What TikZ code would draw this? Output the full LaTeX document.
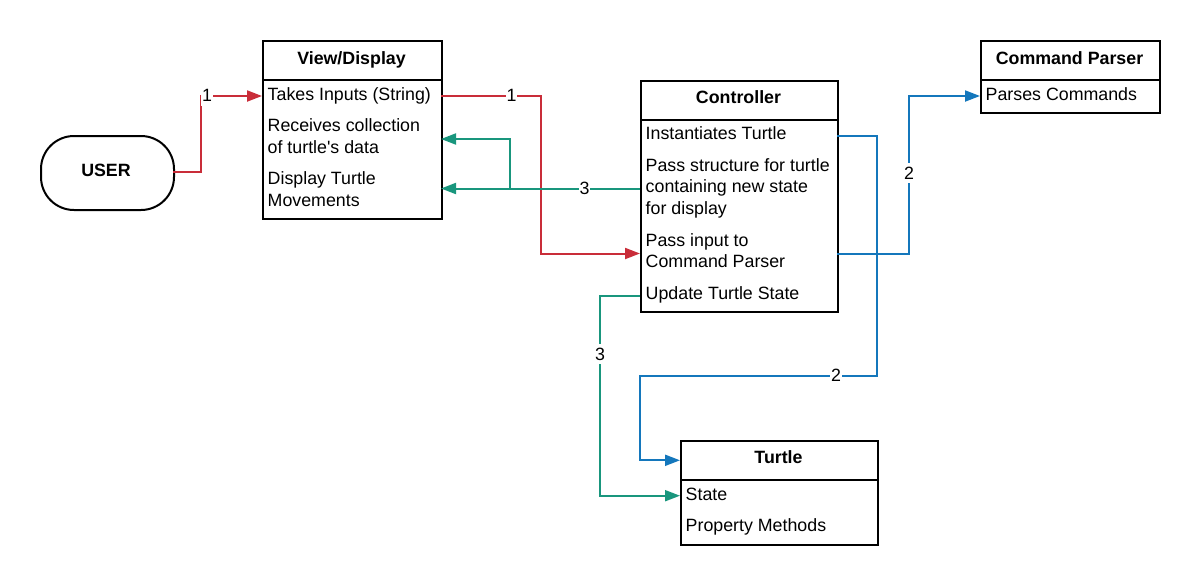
\documentclass[tikz,border=0pt]{standalone}
\usepackage{fontspec}
\setmainfont{Liberation Sans}
\usetikzlibrary{arrows.meta}
\definecolor{cred}{HTML}{C92D39}
\definecolor{cteal}{HTML}{19967D}
\definecolor{cblue}{HTML}{1477BC}
\begin{document}
\begin{tikzpicture}[x=1pt,y=-1pt,
  box/.style={draw=black, line width=2pt, anchor=north west, inner sep=0pt, fill=white},
  divider/.style={draw=black, line width=2pt},
  txt/.style={anchor=base west, inner sep=0pt, font=\fontsize{17.8}{21}\selectfont},
  ttl/.style={anchor=base, inner sep=0pt, font=\fontsize{17.8}{21}\selectfont\bfseries},
  lbl/.style={fill=white, inner xsep=1pt, inner ysep=4pt, font=\fontsize{17.8}{21}\selectfont},
  conn/.style={line width=2pt, -{Triangle[length=15pt,width=11pt]}},
  redl/.style={conn, draw=cred},
  teall/.style={conn, draw=cteal},
  bluel/.style={conn, draw=cblue}
]
\useasboundingbox (0,0) rectangle (1199,584);

% ---------- boxes ----------
\node[box, rounded corners=33pt, minimum width=133pt, minimum height=74pt] (user) at (40,135) {};
\node[ttl] (usert) at (106,176) {USER};

\node[box, minimum width=179pt, minimum height=178pt] (view) at (262,40) {};
\draw[divider] ([yshift=-40pt]view.north west) -- ([yshift=-40pt]view.north east);
\node[ttl] (viewt) at (351.5,64.3) {View/Display};
\node[txt] (v1) at (267.5,100) {Takes Inputs (String)};
\node[txt] (v2a) at (267.5,131) {Receives collection};
\node[txt] (v2b) at (267.5,153) {of turtle\textquotesingle s data};
\node[txt] (v3a) at (267.5,184.5) {Display Turtle};
\node[txt] (v3b) at (267.5,206) {Movements};

\node[box, minimum width=197pt, minimum height=231pt] (ctrl) at (640,80) {};
\draw[divider] ([yshift=-40pt]ctrl.north west) -- ([yshift=-40pt]ctrl.north east);
\node[ttl] (ctrlt) at (738.5,103.3) {Controller};
\node[txt] (c1) at (645.5,139.3) {Instantiates Turtle};
\node[txt] (c2a) at (645.5,171.7) {Pass structure for turtle};
\node[txt] (c2b) at (645.5,192.9) {containing new state};
\node[txt] (c2c) at (645.5,214) {for display};
\node[txt] (c3a) at (645.5,246.7) {Pass input to};
\node[txt] (c3b) at (645.5,267.5) {Command Parser};
\node[txt] (c4) at (645.5,299.3) {Update Turtle State};

\node[box, minimum width=179pt, minimum height=72pt] (cp) at (980,40) {};
\draw[divider] ([yshift=-40pt]cp.north west) -- ([yshift=-40pt]cp.north east);
\node[ttl] (cpt) at (1069.5,64.3) {Command Parser};
\node[txt] (cp1) at (985.5,100) {Parses Commands};

\node[box, minimum width=197pt, minimum height=104pt] (turtle) at (680,440) {};
\draw[divider] ([yshift=-40pt]turtle.north west) -- ([yshift=-40pt]turtle.north east);
\node[ttl] (turtlet) at (778.5,463.7) {Turtle};
\node[txt] (t1) at (685.5,500) {State};
\node[txt] (t2) at (685.5,531.7) {Property Methods};

% ---------- ports ----------
\coordinate (pUser) at (173,172);
\coordinate (pViewIn) at (262,96);
\coordinate (pViewOut) at (441,96);
\coordinate (pViewRecv) at (441,139);
\coordinate (pViewDisp) at (441,188.5);
\coordinate (pCtrlInst) at (837,136);
\coordinate (pCtrlStruct) at (640,188.5);
\coordinate (pCtrlIn) at (640,253.5);
\coordinate (pCtrlPass) at (837,253.5);
\coordinate (pCtrlUpd) at (640,296);
\coordinate (pCpIn) at (980,96);
\coordinate (pTurtleTop) at (680,460.3);
\coordinate (pTurtleState) at (680,495.7);

% ---------- connectors ----------
\draw[redl] (pUser) -- (201,172) |- (pViewIn);
\draw[redl] (pViewOut) -- (541,96) |- (pCtrlIn);
\draw[teall] (pCtrlStruct) -- (pViewDisp);
\draw[teall] (pCtrlStruct) -- (510,188.5) |- (pViewRecv);
\draw[teall] (pCtrlUpd) -- (600,296) |- (pTurtleState);
\draw[bluel] (pCtrlInst) -- (877,136) -- (877,376) -- (640,376) |- (pTurtleTop);
\draw[bluel] (pCtrlPass) -- (909,253.5) |- (pCpIn);

% ---------- labels ----------
\node[lbl] (l1a) at (207,95.5) {1};
\node[lbl] (l1b) at (511.5,95.5) {1};
\node[lbl] (l3a) at (584.5,188) {3};
\node[lbl] (l3b) at (600,354) {3};
\node[lbl] (l2a) at (836,375.5) {2};
\node[lbl] (l2b) at (909,173) {2};
\end{tikzpicture}
\end{document}
